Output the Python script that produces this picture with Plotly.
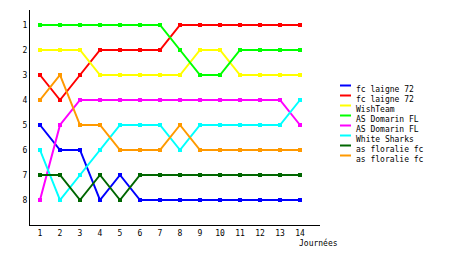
import plotly.graph_objects as go

journees = list(range(1, 15))
y_ticks = [1, 2, 3, 4, 5, 6, 7, 8]

names = ["fc laigne 72", "fc laigne 72", "WishTeam", "AS Domarin FL",
         "AS Domarin FL", "White Sharks", "as floralie fc", "as floralie fc"]
colors = ["#0000FF", "#FF0000", "#FFFF00", "#00FF00",
          "#FF00FF", "#00FFFF", "#006600", "#FF9900"]

blue_fc_laigne = [5, 6, 6, 8, 7, 8, 8, 8, 8, 8, 8, 8, 8, 8]
red_fc_laigne = [3, 4, 3, 2, 2, 2, 2, 1, 1, 1, 1, 1, 1, 1]
wishteam = [2, 2, 2, 3, 3, 3, 3, 3, 2, 2, 3, 3, 3, 3]
green_domarin = [1, 1, 1, 1, 1, 1, 1, 2, 3, 3, 2, 2, 2, 2]
magenta_domarin = [8, 5, 4, 4, 4, 4, 4, 4, 4, 4, 4, 4, 4, 5]
white_sharks = [6, 8, 7, 6, 5, 5, 5, 6, 5, 5, 5, 5, 5, 4]
dkgreen_floralie = [7, 7, 8, 7, 8, 7, 7, 7, 7, 7, 7, 7, 7, 7]
orange_floralie = [4, 3, 5, 5, 6, 6, 6, 5, 6, 6, 6, 6, 6, 6]

series = [blue_fc_laigne, red_fc_laigne, wishteam, green_domarin,
          magenta_domarin, white_sharks, dkgreen_floralie, orange_floralie]

font = "DejaVu Sans Mono"

W, H = 460, 255
ML, MR, MT, MB = 30, 140, 10, 30
PW, PH = W - ML - MR, H - MT - MB


def px_x(px):
    return (px - ML) / PW


def px_y(py):
    return (H - MB - py) / PH


fig = go.Figure()
for name, col, vals in zip(names, colors, series):
    fig.add_trace(go.Scatter(
        x=journees, y=vals, name=name, mode="lines+markers",
        line=dict(color=col, width=2),
        marker=dict(color=col, size=4, symbol="square"),
        showlegend=False,
    ))

shapes = []
annotations = []
for i, (name, col) in enumerate(zip(names, colors)):
    ly = 85.5 + 10 * i
    shapes.append(dict(type="line", xref="paper", yref="paper",
                       x0=px_x(340), x1=px_x(351), y0=px_y(ly), y1=px_y(ly),
                       line=dict(color=col, width=2)))
    annotations.append(dict(text=name, xref="paper", yref="paper",
                            x=px_x(354), y=px_y(ly + 4), xanchor="left",
                            yanchor="middle", showarrow=False,
                            font=dict(family=font, size=8, color="black")))

annotations.append(dict(text="Journées", x=1.0, y=0, xref="paper", yref="paper",
                        xanchor="left", yanchor="top", yshift=-11, xshift=-23,
                        showarrow=False, font=dict(family=font, size=8)))

fig.update_layout(
    width=W, height=H,
    margin=dict(l=ML, r=MR, t=MT, b=MB),
    paper_bgcolor="white", plot_bgcolor="white",
    font=dict(family=font, size=8, color="black"),
    showlegend=False,
    xaxis=dict(range=[0.5, 15], tickmode="array", tickvals=journees,
               showgrid=False, zeroline=False, showline=True,
               linecolor="black", linewidth=1, ticks="", ticklen=0,
               tickfont=dict(family=font, size=8)),
    yaxis=dict(range=[9, 0.4], tickmode="array", tickvals=y_ticks,
               showgrid=False, zeroline=False, showline=True,
               linecolor="black", linewidth=1, ticks="",
               tickfont=dict(family=font, size=8)),
    shapes=shapes,
    annotations=annotations,
)

fig.write_html("out.html")
